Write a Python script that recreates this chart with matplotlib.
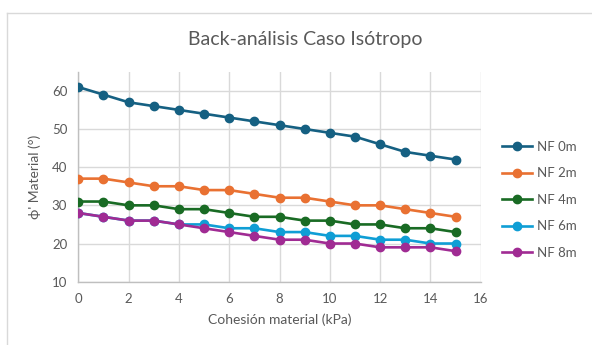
import matplotlib
matplotlib.use("Agg")
import matplotlib.pyplot as plt
from matplotlib.lines import Line2D

plt.rcParams['font.family'] = ['Lato', 'DejaVu Sans']

cohesion = list(range(16))
nf0 = [61, 59, 57, 56, 55, 54, 53, 52, 51, 50, 49, 48, 46, 44, 43, 42]
nf2 = [37, 37, 36, 35, 35, 34, 34, 33, 32, 32, 31, 30, 30, 29, 28, 27]
nf4 = [31, 31, 30, 30, 29, 29, 28, 27, 27, 26, 26, 25, 25, 24, 24, 23]
nf6 = [28, 27, 26, 26, 25, 25, 24, 24, 23, 23, 22, 22, 21, 21, 20, 20]
nf8 = [28, 27, 26, 26, 25, 24, 23, 22, 21, 21, 20, 20, 19, 19, 19, 18]
series_names = ["NF 0m", "NF 2m", "NF 4m", "NF 6m", "NF 8m"]
colors = ["#156082", "#E97132", "#196B24", "#0F9ED5", "#A02B93"]
x_ticks = [0, 2, 4, 6, 8, 10, 12, 14, 16]
y_ticks = [10, 20, 30, 40, 50, 60]

txt = "#595959"
fig = plt.figure(figsize=(5.92, 3.45), dpi=100)
fig.patch.set_facecolor("white")
ax = fig.add_axes([0.1323, 0.1835, 0.812 - 0.1323, 0.792 - 0.1835])

for vals, name, c in zip([nf0, nf2, nf4, nf6, nf8], series_names, colors):
    ax.plot(cohesion, vals, color=c, lw=1.9, marker='o', markersize=6,
            label=name, zorder=3)

ax.set_xlim(0, 16)
ax.set_ylim(10, 65)
ax.set_xticks(x_ticks)
ax.set_yticks(y_ticks)
ax.grid(True, color="#D9D9D9", lw=1)
ax.set_axisbelow(True)
for s in ["top", "right"]:
    ax.spines[s].set_visible(False)
for s in ["left", "bottom"]:
    ax.spines[s].set_color("#BFBFBF")
    ax.spines[s].set_linewidth(1)
ax.tick_params(length=0, colors=txt, labelsize=9.5, pad=8)

ax.set_xlabel("Cohesión material (kPa)", color=txt, fontsize=10, labelpad=6)
ax.set_ylabel("ϕ' Material (°)", color=txt, fontsize=10, labelpad=8)
fig.text(0.515, 0.885, "Back-análisis Caso Isótropo", ha="center", va="center",
         fontsize=14, color=txt)

leg = ax.legend(loc="center left", bbox_to_anchor=(1.04, 0.39), frameon=False,
                fontsize=9.5, labelcolor=txt, handlelength=2.3, labelspacing=1.1,
                handletextpad=0.35, borderaxespad=0)

# chart border (extends beyond right/bottom)
fig.add_artist(Line2D([7 / 592, 7 / 592], [0, 1 - 13 / 345], transform=fig.transFigure,
                      color="#D9D9D9", lw=1))
fig.add_artist(Line2D([7 / 592, 1], [1 - 13 / 345, 1 - 13 / 345], transform=fig.transFigure,
                      color="#D9D9D9", lw=1))

fig.savefig("out.png", dpi=100)
